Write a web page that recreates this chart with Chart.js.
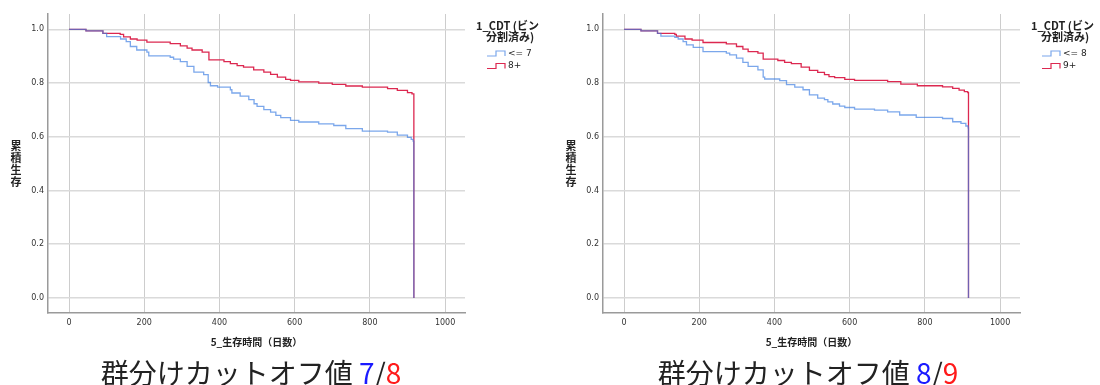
<!DOCTYPE html>
<html>
<head>
<meta charset="utf-8">
<script src="https://cdn.jsdelivr.net/npm/chart.js@4"></script>
<style>
    body { margin: 0; width: 1100px; height: 385px; background: #fff; overflow: hidden; position: relative; }
    canvas { position: absolute; top: 0; }
    #chart-78 { left: 0; }
    #chart-89 { left: 555px; }
    .caption {
        position: absolute; top: 357px; height: 30px; line-height: 30px;
        font-family: "Noto Sans CJK JP", sans-serif; font-size: 28px; font-weight: 400;
        color: #222; text-align: center; white-space: nowrap;
    }
    .lo { color: #1a1aff; }
    .hi { color: #ff1a1a; }
</style>
</head>
<body>
<canvas id="chart-78" width="550" height="355"></canvas>
<canvas id="chart-89" width="545" height="355"></canvas>
<div class="caption" style="left:0;width:502px">群分けカットオフ値 <span class="lo">7</span>/<span class="hi">8</span></div>
<div class="caption" style="left:555px;width:506px">群分けカットオフ値 <span class="lo">8</span>/<span class="hi">9</span></div>
<script>
// axis ticks / labels
const xTicks = [0, 200, 400, 600, 800, 1000];
const yTicks = [0, 0.2, 0.4, 0.6, 0.8, 1.0];
const xTitle = '5_生存時間（日数）';
const yTitle = '累積生存';
const legendTitle = ['1_CDT (ビン', '分割済み)'];

// CUTOFF 7/8
const labels78 = ['<= 7', '8+'];
const timeLe7 = [0,45,90,100,137,152,163,180,207,212,269,278,296,314,332,358,370,376,395,429,433,455,478,492,500,518,536,550,563,589,611,664,704,736,780,847,873,900,910,915,917];
const survLe7 = [1,0.994,0.985,0.973,0.964,0.954,0.936,0.923,0.915,0.901,0.896,0.889,0.880,0.862,0.841,0.831,0.802,0.790,0.785,0.775,0.763,0.751,0.738,0.723,0.713,0.701,0.692,0.680,0.671,0.661,0.655,0.648,0.642,0.630,0.621,0.617,0.606,0.598,0.590,0.584,0];
const time8p = [0,45,90,136,145,163,181,207,269,296,314,327,354,372,412,429,447,464,491,518,536,554,576,589,611,664,700,736,780,847,873,900,912,917];
const surv8p = [1,0.994,0.985,0.981,0.972,0.964,0.960,0.952,0.947,0.938,0.930,0.923,0.915,0.886,0.880,0.872,0.865,0.859,0.849,0.841,0.832,0.822,0.814,0.810,0.804,0.800,0.795,0.789,0.785,0.779,0.773,0.764,0.760,0];

// CUTOFF 8/9
const labels89 = ['<= 8', '9+'];
const timeLe8 = [0,45,89,98,135,144,157,166,184,210,272,281,299,316,330,356,370,374,414,432,454,476,493,515,533,542,555,573,587,613,666,701,733,777,847,874,896,909,915,916];
const survLe8 = [1,0.994,0.985,0.975,0.970,0.964,0.954,0.942,0.933,0.917,0.911,0.905,0.893,0.877,0.862,0.849,0.822,0.815,0.809,0.794,0.785,0.775,0.756,0.744,0.738,0.730,0.722,0.714,0.709,0.703,0.699,0.693,0.681,0.672,0.668,0.656,0.650,0.640,0.633,0];
const time9p = [0,45,89,135,139,162,181,210,272,299,316,330,356,370,409,427,445,471,493,515,533,545,560,587,613,701,736,780,847,874,891,905,914,916];
const surv9p = [1,0.994,0.985,0.981,0.975,0.964,0.960,0.951,0.946,0.936,0.926,0.917,0.911,0.889,0.884,0.877,0.872,0.859,0.847,0.840,0.831,0.824,0.820,0.814,0.810,0.805,0.796,0.790,0.786,0.780,0.774,0.768,0.764,0];

const BLUE = 'rgba(60,125,225,0.68)';
const RED = '#dc2850';
const CJK = '"Noto Sans CJK JP", sans-serif';

// stacked y title + step legend, drawn on the canvas
const kmExtras = {
    id: 'kmExtras',
    afterDraw(chart) {
        const { ctx, chartArea } = chart;
        ctx.save();
        ctx.fillStyle = '#222';
        ctx.textBaseline = 'middle';

        ctx.font = 'bold 11px ' + CJK;
        ctx.textAlign = 'center';
        const cy = (chartArea.top + chartArea.bottom) / 2;
        const chars = [...yTitle];
        chars.forEach((c, i) => ctx.fillText(c, 16, cy + (i - (chars.length - 1) / 2) * 12));

        const lx = chartArea.right + 11;
        ctx.font = 'bold 11px ' + CJK;
        ctx.textAlign = 'left';
        ctx.fillText(legendTitle[0], lx, 25.5);
        ctx.textAlign = 'center';
        ctx.fillText(legendTitle[1], chartArea.right + 45, 37);

        chart.data.datasets.forEach((ds, i) => {
            const y = 53.5 + i * 12.5;
            ctx.strokeStyle = ds.borderColor;
            ctx.lineWidth = 1.2;
            ctx.beginPath();
            ctx.moveTo(lx + 11, y + 2.5);
            ctx.lineTo(lx + 20, y + 2.5);
            ctx.lineTo(lx + 20, y - 2.5);
            ctx.lineTo(lx + 29, y - 2.5);
            ctx.lineTo(lx + 29, y + 2.5);
            ctx.stroke();
            ctx.font = '9px "DejaVu Sans", sans-serif';
            ctx.textAlign = 'left';
            ctx.fillText(ds.label, lx + 32, y);
        });
        ctx.restore();
    }
};

function toPoints(times, surv) {
    return times.map((t, i) => ({ x: t, y: surv[i] }));
}

function kmChart(id, labels, lowT, lowS, highT, highS, padRight) {
    new Chart(
        document.getElementById(id),
        {
            type: 'line',
            data: {
                datasets: [
                    { label: labels[0], data: toPoints(lowT, lowS), borderColor: BLUE, order: 0 },
                    { label: labels[1], data: toPoints(highT, highS), borderColor: RED, order: 1 }
                ]
            },
            options: {
                responsive: false,
                animation: false,
                layout: { padding: { top: 14, right: padRight, bottom: 0, left: 0 } },
                elements: {
                    line: { stepped: 'before', borderWidth: 1.3, tension: 0, fill: false },
                    point: { radius: 0, hoverRadius: 0 }
                },
                plugins: { legend: { display: false }, tooltip: { enabled: false } },
                scales: {
                    x: {
                        type: 'linear',
                        min: -56,
                        max: 1053,
                        afterBuildTicks: axis => { axis.ticks = xTicks.map(v => ({ value: v })); },
                        afterFit: axis => { axis.height = 42; },
                        ticks: {
                            padding: 5,
                            color: '#333',
                            font: { family: 'DejaVu Sans', size: 8 },
                            callback: v => String(v)
                        },
                        grid: { color: '#cdcdcd', lineWidth: 1, drawTicks: false },
                        border: { color: '#9a9a9a', width: 1.5 },
                        title: {
                            display: true,
                            text: xTitle,
                            color: '#222',
                            font: { family: CJK, size: 10, weight: 'bold' },
                            padding: { top: 0, bottom: 7 }
                        }
                    },
                    y: {
                        min: -0.056,
                        max: 1.057,
                        afterBuildTicks: axis => { axis.ticks = yTicks.map(v => ({ value: v })); },
                        afterFit: axis => { axis.width = 48; },
                        ticks: {
                            padding: 4,
                            color: '#333',
                            font: { family: 'DejaVu Sans', size: 8 },
                            callback: v => v.toFixed(1)
                        },
                        grid: { color: '#dadada', lineWidth: 1.5, drawTicks: false },
                        border: { color: '#9a9a9a', width: 1.5 }
                    }
                }
            },
            plugins: [kmExtras]
        }
    );
}

//  CUTOFF 7/8
kmChart('chart-78', labels78, timeLe7, survLe7, time8p, surv8p, 85);

//  CUTOFF 8/9
kmChart('chart-89', labels89, timeLe8, survLe8, time9p, surv9p, 80);
</script>
</body>
</html>
